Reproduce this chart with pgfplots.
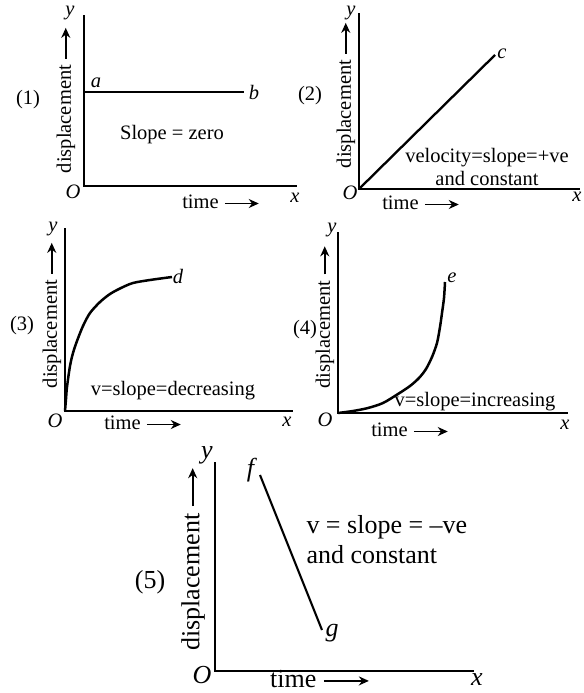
\documentclass[border=0pt]{standalone}
\usepackage{fontspec}
\setmainfont{Liberation Serif}
\usepackage{pgfplots}
\pgfplotsset{compat=1.18}
\usetikzlibrary{arrows.meta}
\newcommand\fa{\fontsize{20.5bp}{22bp}\selectfont}
\newcommand\fb{\fontsize{26bp}{28bp}\selectfont}
\newcommand\arr[1]{\tikz[baseline=-0.55ex]\draw[black, line width=1.9bp, -{Stealth[length=10bp, width=9bp]}] (0,0)--(#1bp,0);}
\pgfplotsset{panel/.style={scale only axis, axis lines=left, axis line style={-, line width=2.9bp, line cap=rect},
  xtick=\empty, ytick=\empty, clip=false, xmin=0, ymin=0, anchor=south west}}
\begin{document}
\begin{tikzpicture}
\useasboundingbox (0,0) rectangle (584bp,693bp);
% Panel 1
\begin{axis}[panel, at={(84bp,507bp)}, width=212bp, height=170bp, xmax=212, ymax=170]
\addplot[black, line width=2.5bp] coordinates {(0,94) (160,94)};
\node[font=\fa] at (axis cs:12,103) {\textit{a}};
\node[font=\fa] at (axis cs:170,94) {\textit{b}};
\node[font=\fa] at (axis cs:-56,86) {(1)};
\node[font=\fa, rotate=90] at (axis cs:-18,86) {displacement \arr{31}};
\node[font=\fa] at (axis cs:-14,173) {\textit{y}};
\node[font=\fa] at (axis cs:-11,-6) {\textit{O}};
\node[font=\fa] at (axis cs:211,-12) {\textit{x}};
\node[font=\fa] at (axis cs:137,-16) {time \arr{34}};
\node[font=\fa] at (axis cs:88,51) {Slope = zero};
\end{axis}
% Panel 2
\begin{axis}[panel, at={(359bp,504bp)}, width=220bp, height=175bp, xmax=220, ymax=175]
\addplot[black, line width=2.3bp] coordinates {(0,0) (136,134)};
\node[font=\fa] at (axis cs:143,135) {\textit{c}};
\node[font=\fa] at (axis cs:-49,93) {(2)};
\node[font=\fa, rotate=90] at (axis cs:-13,94) {displacement \arr{31}};
\node[font=\fa] at (axis cs:-8,176) {\textit{y}};
\node[font=\fa] at (axis cs:-9,-4) {\textit{O}};
\node[font=\fa] at (axis cs:218,-8) {\textit{x}};
\node[font=\fa] at (axis cs:62,-14) {time \arr{34}};
\node[font=\fa] at (axis cs:128,31) {velocity=slope=+ve};
\node[font=\fa] at (axis cs:128,11) {and constant};
\end{axis}
% Panel 3
\begin{axis}[panel, at={(65bp,282bp)}, width=227bp, height=182bp, xmax=227, ymax=182]
\addplot[black, line width=2.5bp, smooth] coordinates {(0,0) (1,12) (2,24) (5,45) (8,58) (12,70) (18,85) (25,98) (35,109) (45,117) (56,123) (68,128) (85,131) (107,134)};
\node[font=\fa] at (axis cs:113,135) {\textit{d}};
\node[font=\fa] at (axis cs:-43,85) {(3)};
\node[font=\fa, rotate=90] at (axis cs:-13,96) {displacement \arr{31}};
\node[font=\fa] at (axis cs:-12,182) {\textit{y}};
\node[font=\fa] at (axis cs:-10,-10) {\textit{O}};
\node[font=\fa] at (axis cs:222,-11) {\textit{x}};
\node[font=\fa] at (axis cs:78,-12) {time \arr{34}};
\node[font=\fa] at (axis cs:108,20) {v=slope=decreasing};
\end{axis}
% Panel 4
\begin{axis}[panel, at={(338bp,280bp)}, width=229bp, height=180bp, xmax=229, ymax=180]
\addplot[black, line width=2.5bp, smooth] coordinates {(0,0) (15,2) (30,5) (45,10) (60,19) (72,27) (81,35) (88,44) (94,56) (99,70) (102,86) (104,100) (106,115) (107,131)};
\node[font=\fa] at (axis cs:114,135) {\textit{e}};
\node[font=\fa] at (axis cs:-33,83) {(4)};
\node[font=\fa, rotate=90] at (axis cs:-13,96) {displacement \arr{28}};
\node[font=\fa] at (axis cs:-6,183) {\textit{y}};
\node[font=\fa] at (axis cs:-13,-7) {\textit{O}};
\node[font=\fa] at (axis cs:227,-12) {\textit{x}};
\node[font=\fa] at (axis cs:72,-17) {time \arr{34}};
\node[font=\fa] at (axis cs:137,11) {v=slope=increasing};
\end{axis}
% Panel 5
\begin{axis}[panel, at={(215bp,22bp)}, width=258bp, height=208bp, xmax=258, ymax=208]
\addplot[black, line width=2.1bp] coordinates {(45,196) (107,41)};
\node[font=\fb] at (axis cs:37,201) {\textit{f}};
\node[font=\fb] at (axis cs:117,38) {\textit{g}};
\node[font=\fb] at (axis cs:-65,89) {(5)};
\node[font=\fb, rotate=90] at (axis cs:-22,112) {displacement \arr{38}};
\node[font=\fb] at (axis cs:-8,216) {\textit{y}};
\node[font=\fb] at (axis cs:-13,-4) {\textit{O}};
\node[font=\fb] at (axis cs:262,-9) {\textit{x}};
\node[font=\fb] at (axis cs:105,-8) {time \arr{45}};
\node[font=\fb, anchor=west] at (axis cs:88,144) {v = slope = –ve};
\node[font=\fb, anchor=west] at (axis cs:88,116) {and constant};
\end{axis}
\end{tikzpicture}
\end{document}
